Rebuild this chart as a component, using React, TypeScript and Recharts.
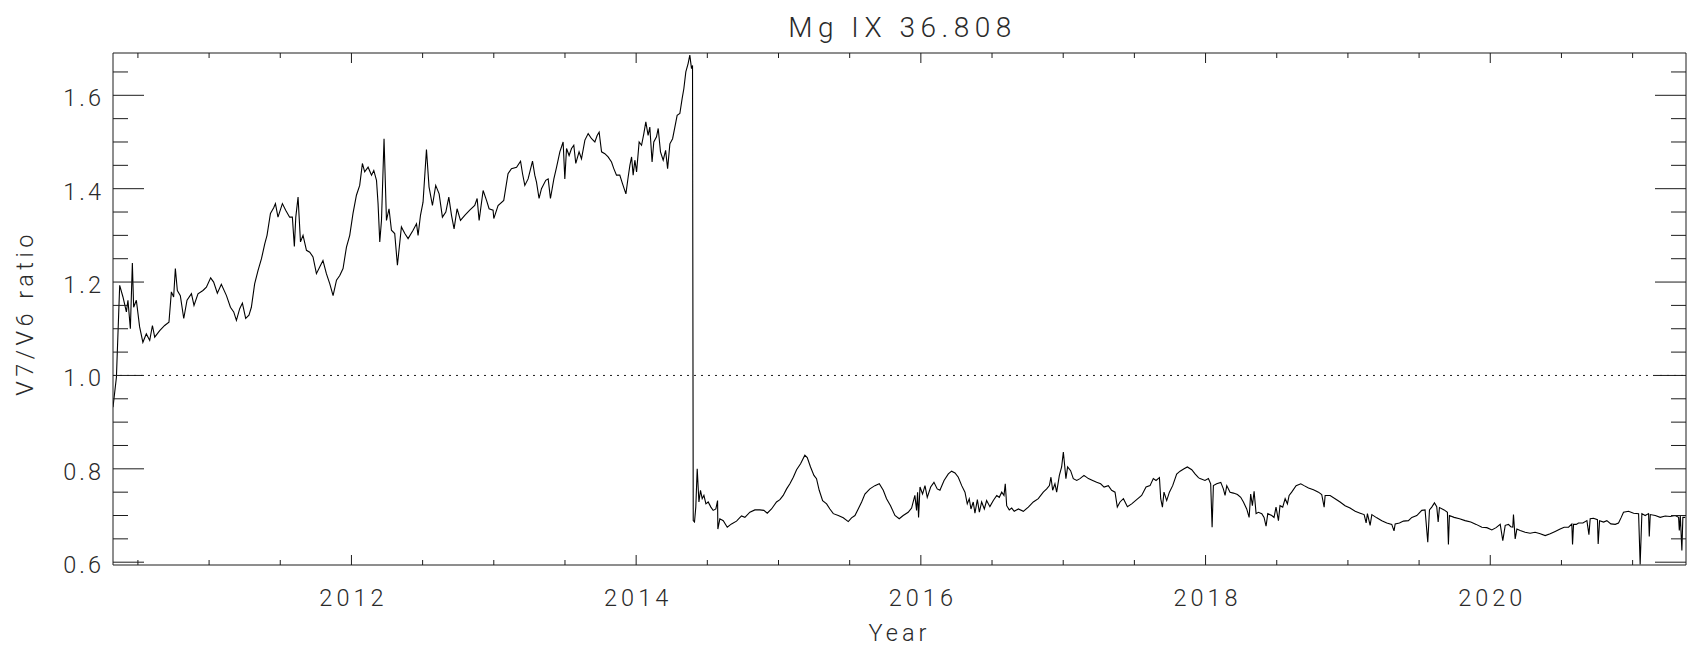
import React from 'react';
import { LineChart, Line, XAxis, YAxis, ReferenceLine } from 'recharts';

// [year, V7/V6 ratio], one list per stretch of the mission
const RISE_2010_2012: [number, number][] = [
  [2010.325, 0.932], [2010.349, 0.996], [2010.372, 1.193], [2010.395, 1.168], [2010.419, 1.136],
  [2010.43, 1.161], [2010.447, 1.1], [2010.461, 1.241], [2010.47, 1.146], [2010.489, 1.161],
  [2010.512, 1.104], [2010.535, 1.071], [2010.559, 1.089], [2010.583, 1.075], [2010.602, 1.107],
  [2010.618, 1.082], [2010.653, 1.096], [2010.688, 1.107], [2010.718, 1.114], [2010.735, 1.179],
  [2010.751, 1.168], [2010.763, 1.229], [2010.777, 1.182], [2010.798, 1.171], [2010.822, 1.122],
  [2010.845, 1.161], [2010.876, 1.175], [2010.894, 1.15], [2010.922, 1.175], [2010.957, 1.182],
  [2010.981, 1.189], [2011.011, 1.209], [2011.032, 1.2], [2011.058, 1.176], [2011.086, 1.195],
  [2011.122, 1.171], [2011.15, 1.146], [2011.173, 1.136], [2011.192, 1.118], [2011.215, 1.143],
  [2011.234, 1.155], [2011.257, 1.122], [2011.28, 1.129], [2011.297, 1.146], [2011.32, 1.196],
  [2011.344, 1.225], [2011.368, 1.25], [2011.391, 1.282], [2011.407, 1.3], [2011.431, 1.347],
  [2011.454, 1.359], [2011.466, 1.368], [2011.484, 1.339], [2011.515, 1.368], [2011.538, 1.354],
  [2011.566, 1.339], [2011.585, 1.339], [2011.599, 1.276], [2011.609, 1.339], [2011.625, 1.382],
  [2011.642, 1.286], [2011.66, 1.3], [2011.684, 1.268], [2011.707, 1.264], [2011.73, 1.254],
  [2011.754, 1.218], [2011.777, 1.232], [2011.8, 1.246], [2011.824, 1.218], [2011.848, 1.196],
  [2011.871, 1.171], [2011.895, 1.204], [2011.918, 1.214], [2011.941, 1.229], [2011.965, 1.275],
  [2011.988, 1.3], [2012.011, 1.347], [2012.035, 1.386], [2012.058, 1.407], [2012.077, 1.454],
  [2012.093, 1.436], [2012.117, 1.446], [2012.141, 1.429], [2012.157, 1.439], [2012.176, 1.418],
  [2012.187, 1.368], [2012.199, 1.286], [2012.211, 1.332], [2012.229, 1.507], [2012.246, 1.332],
  [2012.264, 1.357], [2012.281, 1.311], [2012.304, 1.304], [2012.323, 1.236], [2012.351, 1.318],
  [2012.375, 1.304], [2012.398, 1.293], [2012.433, 1.311], [2012.457, 1.325], [2012.468, 1.3],
  [2012.485, 1.343], [2012.503, 1.371], [2012.527, 1.484], [2012.545, 1.404], [2012.569, 1.364],
  [2012.592, 1.407], [2012.616, 1.389],
];

const RISE_2012_2014: [number, number][] = [
  [2012.639, 1.339], [2012.663, 1.35], [2012.684, 1.382], [2012.703, 1.343], [2012.721, 1.314],
  [2012.742, 1.357], [2012.766, 1.332], [2012.796, 1.343], [2012.831, 1.354], [2012.866, 1.364],
  [2012.883, 1.379], [2012.897, 1.332], [2012.925, 1.396], [2012.949, 1.375], [2012.967, 1.357],
  [2012.995, 1.354], [2013.0, 1.336], [2013.03, 1.364], [2013.07, 1.375], [2013.1, 1.432],
  [2013.124, 1.443], [2013.16, 1.446], [2013.188, 1.459], [2013.202, 1.432], [2013.218, 1.407],
  [2013.241, 1.421], [2013.272, 1.459], [2013.288, 1.429], [2013.3, 1.414], [2013.318, 1.379],
  [2013.335, 1.4], [2013.365, 1.418], [2013.382, 1.421], [2013.398, 1.379], [2013.422, 1.421],
  [2013.441, 1.446], [2013.464, 1.479], [2013.487, 1.5], [2013.499, 1.421], [2013.511, 1.486],
  [2013.529, 1.471], [2013.546, 1.486], [2013.562, 1.493], [2013.576, 1.454], [2013.599, 1.479],
  [2013.616, 1.464], [2013.64, 1.504], [2013.663, 1.518], [2013.687, 1.507], [2013.71, 1.5],
  [2013.726, 1.514], [2013.74, 1.521], [2013.757, 1.479], [2013.78, 1.475], [2013.803, 1.468],
  [2013.827, 1.457], [2013.843, 1.443], [2013.862, 1.429], [2013.885, 1.429], [2013.904, 1.411],
  [2013.928, 1.389], [2013.944, 1.425], [2013.956, 1.45], [2013.968, 1.468], [2013.979, 1.429],
  [2013.991, 1.461], [2014.003, 1.436], [2014.021, 1.5], [2014.038, 1.493], [2014.054, 1.518],
  [2014.068, 1.543], [2014.084, 1.514], [2014.096, 1.532], [2014.112, 1.457], [2014.124, 1.5],
  [2014.143, 1.511], [2014.155, 1.529], [2014.171, 1.479], [2014.19, 1.461], [2014.207, 1.482],
  [2014.221, 1.443], [2014.237, 1.496], [2014.256, 1.507], [2014.272, 1.532], [2014.288, 1.557],
  [2014.307, 1.561], [2014.323, 1.593], [2014.335, 1.614], [2014.349, 1.65], [2014.365, 1.668],
  [2014.377, 1.686], [2014.389, 1.657], [2014.396, 1.664],
];

const AFTER_2014: [number, number][] = [
  [2014.401, 0.689], [2014.41, 0.686], [2014.419, 0.718], [2014.429, 0.8], [2014.441, 0.729],
  [2014.452, 0.754], [2014.464, 0.736], [2014.476, 0.743], [2014.49, 0.725], [2014.506, 0.729],
  [2014.525, 0.718], [2014.541, 0.711], [2014.56, 0.714], [2014.572, 0.732], [2014.574, 0.671],
  [2014.588, 0.693], [2014.612, 0.689], [2014.64, 0.675], [2014.67, 0.682], [2014.705, 0.688],
  [2014.74, 0.699], [2014.764, 0.696], [2014.799, 0.707], [2014.834, 0.712], [2014.869, 0.712],
  [2014.897, 0.711], [2014.921, 0.705], [2014.951, 0.714], [2014.986, 0.729], [2015.01, 0.734],
  [2015.033, 0.743], [2015.057, 0.757], [2015.08, 0.768], [2015.104, 0.782], [2015.127, 0.798],
  [2015.155, 0.811], [2015.185, 0.829], [2015.202, 0.824], [2015.225, 0.804], [2015.249, 0.786],
  [2015.267, 0.779], [2015.286, 0.754], [2015.31, 0.732], [2015.338, 0.725], [2015.361, 0.714],
  [2015.385, 0.704], [2015.42, 0.7], [2015.455, 0.695], [2015.49, 0.687], [2015.513, 0.695],
  [2015.537, 0.7], [2015.56, 0.714], [2015.584, 0.729], [2015.607, 0.746], [2015.642, 0.757],
  [2015.677, 0.764], [2015.708, 0.768], [2015.736, 0.754], [2015.759, 0.736], [2015.787, 0.721],
  [2015.818, 0.7], [2015.848, 0.693], [2015.876, 0.7], [2015.911, 0.707], [2015.935, 0.716],
  [2015.958, 0.743], [2015.97, 0.711], [2015.977, 0.75], [2015.984, 0.696], [2015.994, 0.761],
  [2016.012, 0.746], [2016.029, 0.764], [2016.045, 0.739], [2016.069, 0.761], [2016.092, 0.771],
  [2016.115, 0.757], [2016.134, 0.754], [2016.163, 0.775], [2016.193, 0.789], [2016.216, 0.795],
  [2016.24, 0.791], [2016.263, 0.782], [2016.287, 0.764], [2016.31, 0.75], [2016.326, 0.725],
  [2016.34, 0.736], [2016.352, 0.714], [2016.368, 0.729], [2016.38, 0.705], [2016.397, 0.734],
  [2016.411, 0.707], [2016.427, 0.729], [2016.446, 0.714], [2016.462, 0.732], [2016.485, 0.719],
  [2016.509, 0.732], [2016.533, 0.743], [2016.551, 0.739], [2016.568, 0.75], [2016.584, 0.743],
  [2016.593, 0.768], [2016.603, 0.721], [2016.621, 0.712], [2016.638, 0.716], [2016.656, 0.709],
  [2016.685, 0.714], [2016.72, 0.709], [2016.755, 0.718], [2016.79, 0.729], [2016.825, 0.736],
  [2016.86, 0.75], [2016.884, 0.757], [2016.903, 0.764], [2016.914, 0.782], [2016.926, 0.754],
  [2016.942, 0.768], [2016.954, 0.75], [2016.973, 0.786], [2016.989, 0.804], [2017.001, 0.836],
  [2017.008, 0.814], [2017.019, 0.779], [2017.031, 0.804], [2017.052, 0.796], [2017.071, 0.779],
  [2017.095, 0.775], [2017.118, 0.779], [2017.146, 0.786], [2017.177, 0.779], [2017.207, 0.775],
  [2017.235, 0.771], [2017.263, 0.768], [2017.287, 0.761], [2017.317, 0.764], [2017.34, 0.754],
  [2017.364, 0.75], [2017.38, 0.718], [2017.399, 0.729], [2017.423, 0.736], [2017.451, 0.719],
  [2017.481, 0.725], [2017.516, 0.734], [2017.551, 0.743], [2017.582, 0.761], [2017.61, 0.764],
  [2017.633, 0.779], [2017.652, 0.775], [2017.676, 0.781], [2017.685, 0.736], [2017.697, 0.718],
  [2017.708, 0.75], [2017.727, 0.732], [2017.746, 0.75], [2017.769, 0.764], [2017.797, 0.789],
  [2017.821, 0.795], [2017.849, 0.8], [2017.872, 0.804], [2017.903, 0.798], [2017.926, 0.789],
  [2017.95, 0.781],
];

const LATE_2018_2021: [number, number][] = [
  [2017.961, 0.779], [2017.996, 0.775], [2018.02, 0.779], [2018.036, 0.768], [2018.046, 0.675],
  [2018.055, 0.764], [2018.078, 0.768], [2018.107, 0.771], [2018.125, 0.757], [2018.137, 0.743],
  [2018.149, 0.764], [2018.172, 0.75], [2018.196, 0.748], [2018.224, 0.745], [2018.247, 0.739],
  [2018.266, 0.729], [2018.289, 0.714], [2018.306, 0.696], [2018.317, 0.746], [2018.329, 0.721],
  [2018.341, 0.752], [2018.355, 0.704], [2018.371, 0.707], [2018.395, 0.704], [2018.411, 0.696],
  [2018.425, 0.677], [2018.437, 0.704], [2018.465, 0.7], [2018.481, 0.696], [2018.495, 0.718],
  [2018.512, 0.689], [2018.523, 0.721], [2018.542, 0.718], [2018.559, 0.736], [2018.575, 0.725],
  [2018.587, 0.743], [2018.605, 0.75], [2018.636, 0.764], [2018.669, 0.768], [2018.692, 0.764],
  [2018.723, 0.759], [2018.758, 0.755], [2018.793, 0.75], [2018.816, 0.745], [2018.833, 0.718],
  [2018.84, 0.743], [2018.875, 0.743], [2018.91, 0.736], [2018.945, 0.729], [2018.98, 0.721],
  [2019.015, 0.716], [2019.051, 0.709], [2019.086, 0.705], [2019.114, 0.702], [2019.128, 0.684],
  [2019.137, 0.704], [2019.156, 0.679], [2019.168, 0.702], [2019.203, 0.695], [2019.238, 0.689],
  [2019.273, 0.684], [2019.308, 0.681], [2019.324, 0.667], [2019.332, 0.682], [2019.362, 0.684],
  [2019.39, 0.688], [2019.425, 0.689], [2019.449, 0.696], [2019.484, 0.7], [2019.519, 0.711],
  [2019.542, 0.712], [2019.561, 0.643], [2019.573, 0.712], [2019.589, 0.718], [2019.608, 0.727],
  [2019.624, 0.719], [2019.634, 0.686], [2019.643, 0.717], [2019.676, 0.712], [2019.699, 0.707],
  [2019.706, 0.638], [2019.713, 0.7], [2019.746, 0.696], [2019.784, 0.693], [2019.823, 0.689],
  [2019.863, 0.686], [2019.901, 0.681], [2019.941, 0.675], [2019.976, 0.674], [2020.011, 0.669],
  [2020.041, 0.674], [2020.07, 0.681], [2020.088, 0.646], [2020.105, 0.679], [2020.128, 0.681],
  [2020.144, 0.676], [2020.158, 0.675], [2020.163, 0.702], [2020.175, 0.65], [2020.187, 0.671],
  [2020.21, 0.668], [2020.245, 0.664], [2020.28, 0.662], [2020.315, 0.664], [2020.351, 0.661],
  [2020.386, 0.657], [2020.421, 0.661], [2020.456, 0.666], [2020.491, 0.671], [2020.519, 0.675],
  [2020.55, 0.675], [2020.573, 0.682], [2020.578, 0.638], [2020.585, 0.681], [2020.604, 0.681],
  [2020.62, 0.684], [2020.651, 0.684], [2020.679, 0.689], [2020.693, 0.659], [2020.702, 0.693],
  [2020.725, 0.694], [2020.753, 0.691], [2020.758, 0.639], [2020.768, 0.689], [2020.796, 0.686],
  [2020.819, 0.689], [2020.847, 0.682], [2020.878, 0.681], [2020.901, 0.684], [2020.92, 0.696],
  [2020.936, 0.707], [2020.971, 0.709], [2021.007, 0.705], [2021.042, 0.704], [2021.053, 0.595],
  [2021.065, 0.704], [2021.088, 0.7], [2021.112, 0.704], [2021.117, 0.655], [2021.124, 0.702],
  [2021.159, 0.7], [2021.194, 0.696], [2021.229, 0.699], [2021.264, 0.698], [2021.299, 0.7],
  [2021.323, 0.696], [2021.328, 0.668], [2021.335, 0.7], [2021.346, 0.625], [2021.353, 0.696],
  [2021.37, 0.696],
];

const X_TICKS = [
  2010.5, 2011, 2011.5, 2012, 2012.5, 2013, 2013.5, 2014, 2014.5, 2015, 2015.5,
  2016, 2016.5, 2017, 2017.5, 2018, 2018.5, 2019, 2019.5, 2020, 2020.5, 2021,
];
const X_LABELS = [2012, 2014, 2016, 2018, 2020];
const Y_TICKS = [
  0.6, 0.65, 0.7, 0.75, 0.8, 0.85, 0.9, 0.95, 1.0, 1.05, 1.1,
  1.15, 1.2, 1.25, 1.3, 1.35, 1.4, 1.45, 1.5, 1.55, 1.6, 1.65,
];
const Y_LABELS = [0.6, 0.8, 1.0, 1.2, 1.4, 1.6];

const X_DOMAIN: [number, number] = [2010.325, 2021.375];
const Y_DOMAIN: [number, number] = [0.594, 1.6906];

const data = [...RISE_2010_2012, ...RISE_2012_2014, ...AFTER_2014, ...LATE_2018_2021].map(
  ([t, v]) => ({ t, v })
);

const AXIS = '#1c1c1c';
const FONT: React.CSSProperties = {
  fontFamily: 'Roboto, "DejaVu Sans", sans-serif',
  fontWeight: 300,
  fill: '#2a2a2a',
};

const isMajor = (list: number[], v: number) => list.some((m) => Math.abs(m - v) < 1e-6);

// IDL-style ticks point into the plot; only the long ones carry a label
const LeftTick = ({ x, y, payload }: any) => {
  const major = isMajor(Y_LABELS, payload.value);
  return (
    <g>
      <line x1={x} y1={y} x2={x + (major ? 31 : 15)} y2={y} stroke={AXIS} />
      {major && (
        <text x={x - 9} y={y + 11} textAnchor="end" fontSize={23.5} letterSpacing={3} style={FONT}>
          {payload.value.toFixed(1)}
        </text>
      )}
    </g>
  );
};

const RightTick = ({ x, y, payload }: any) => {
  const major = isMajor(Y_LABELS, payload.value);
  return <line x1={x} y1={y} x2={x - (major ? 31 : 15)} y2={y} stroke={AXIS} />;
};

const BottomTick = ({ x, y, payload }: any) => {
  const major = isMajor(X_LABELS, payload.value);
  return (
    <g>
      <line x1={x} y1={y} x2={x} y2={y - (major ? 10 : 5)} stroke={AXIS} />
      {major && (
        <text x={x + 2} y={y + 41} textAnchor="middle" fontSize={23.5} letterSpacing={4} style={FONT}>
          {payload.value}
        </text>
      )}
    </g>
  );
};

const TopTick = ({ x, y, payload }: any) => {
  const major = isMajor(X_LABELS, payload.value);
  return <line x1={x} y1={y} x2={x} y2={y + (major ? 10 : 5)} stroke={AXIS} />;
};

const TitleLabel = ({ viewBox }: any) => (
  <text x={viewBox.x + viewBox.width / 2 + 3} y={37} textAnchor="middle" fontSize={28} letterSpacing={5.5} style={FONT}>
    Mg IX 36.808
  </text>
);

const YearLabel = ({ viewBox }: any) => (
  <text x={viewBox.x + viewBox.width / 2} y={viewBox.y + 76} textAnchor="middle" fontSize={23.5} letterSpacing={4} style={FONT}>
    Year
  </text>
);

const RatioLabel = ({ viewBox }: any) => {
  const cx = viewBox.x + 33;
  const cy = viewBox.y + viewBox.height / 2 + 4;
  return (
    <text
      x={cx}
      y={cy}
      transform={`rotate(-90 ${cx} ${cy})`}
      textAnchor="middle"
      fontSize={23.5}
      letterSpacing={4.5}
      style={FONT}
    >
      V7/V6 ratio
    </text>
  );
};

export default function App() {
  return (
    <div style={{ position: 'absolute', left: 0, top: 0, width: 1700, height: 653, background: '#fff' }}>
      {/* top and right axes need a 1px box or recharts skips drawing them */}
      <LineChart width={1700} height={653} data={data} margin={{ top: 52, right: 13, bottom: 0, left: 0 }}>
        <XAxis
          dataKey="t"
          type="number"
          domain={X_DOMAIN}
          allowDataOverflow
          ticks={X_TICKS}
          interval={0}
          height={88}
          tickSize={0}
          tickMargin={0}
          tickLine={false}
          axisLine={{ stroke: AXIS }}
          tick={BottomTick}
          label={{ content: YearLabel }}
        />
        <XAxis
          xAxisId="top"
          orientation="top"
          dataKey="t"
          type="number"
          domain={X_DOMAIN}
          allowDataOverflow
          ticks={X_TICKS}
          interval={0}
          height={1}
          tickSize={0}
          tickMargin={0}
          tickLine={false}
          axisLine={{ stroke: AXIS }}
          tick={TopTick}
          label={{ content: TitleLabel }}
        />
        <YAxis
          type="number"
          domain={Y_DOMAIN}
          allowDataOverflow
          ticks={Y_TICKS}
          interval={0}
          width={113}
          tickSize={0}
          tickMargin={0}
          tickLine={false}
          axisLine={{ stroke: AXIS }}
          tick={LeftTick}
          label={{ content: RatioLabel }}
        />
        <YAxis
          yAxisId="right"
          orientation="right"
          type="number"
          domain={Y_DOMAIN}
          allowDataOverflow
          ticks={Y_TICKS}
          interval={0}
          width={1}
          tickSize={0}
          tickMargin={0}
          tickLine={false}
          axisLine={{ stroke: AXIS }}
          tick={RightTick}
        />
        <ReferenceLine y={1} stroke={AXIS} strokeDasharray="2 5" />
        {/* unstroked copy bound to the mirrored axes */}
        <Line
          xAxisId="top"
          yAxisId="right"
          dataKey="v"
          type="linear"
          stroke="none"
          dot={false}
          activeDot={false}
          isAnimationActive={false}
        />
        <Line
          dataKey="v"
          type="linear"
          stroke="#000"
          strokeWidth={1.1}
          dot={false}
          activeDot={false}
          isAnimationActive={false}
        />
      </LineChart>
    </div>
  );
}
